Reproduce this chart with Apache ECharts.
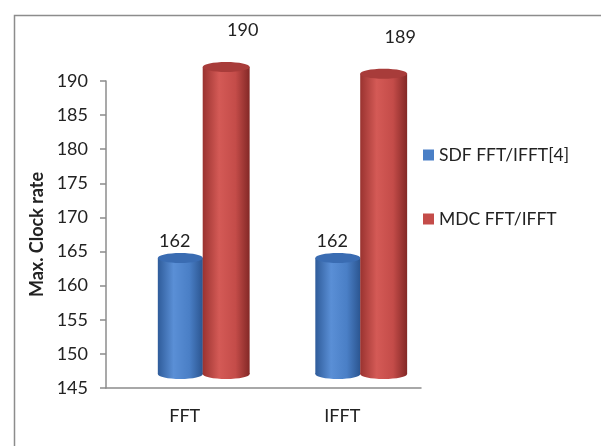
<!DOCTYPE html>
<html>
<head>
<meta charset="utf-8">
<script src="https://cdn.jsdelivr.net/npm/echarts@6/dist/echarts.min.js"></script>
<style>
  html, body { margin: 0; padding: 0; background: #fff; }
  #chart { width: 601px; height: 446px; }
</style>
</head>
<body>
<div id="chart"></div>
<script>
// Maximum clock rate comparison
const categories = ['FFT', 'IFFT'];
const seriesNames = ['SDF FFT/IFFT[4]', 'MDC FFT/IFFT'];
const sdfValues = [162, 162];
const mdcValues = [190, 189];
const yTicks = { min: 145, max: 190, step: 5 };

const FONT = 'Lato, "Open Sans", sans-serif';

// Cylinder placement inside a category band (fractions of band width),
// plus the shift that gives the 3D depth look.
const CYL = [
  { left: -0.171, width: 0.286, labelDx: -10, labelDy: -31,
    colors: ['#2f5c9a', '#5a8fd6', '#4a7fc6', '#2b5590'], topColor: '#3a6cb2' },
  { left: 0.114, width: 0.298, labelDx: 58, labelDy: -51,
    colors: ['#9a3330', '#d45a56', '#c44c49', '#832826'], topColor: '#a83c3a' }
];
const DEPTH_Y = -14;
const RY = 5;

function makeRender(si) {
  const g = CYL[si];
  return function (params, api) {
    const cat = api.value(0);
    const val = api.value(1);
    const topPt = api.coord([cat, val]);
    const basePt = api.coord([cat, yTicks.min]);
    const band = api.size([1, 0])[0];
    const center = topPt[0];
    const x0 = center + g.left * band;
    const w = g.width * band;
    const yTop = topPt[1] + DEPTH_Y;
    const yBot = basePt[1] + DEPTH_Y;
    const grad = () => new echarts.graphic.LinearGradient(0, 0, 1, 0, [
      { offset: 0, color: g.colors[0] },
      { offset: 0.35, color: g.colors[1] },
      { offset: 0.7, color: g.colors[2] },
      { offset: 1, color: g.colors[3] }
    ]);
    return {
      type: 'group',
      children: [
        { type: 'ellipse', shape: { cx: x0 + w / 2, cy: yBot, rx: w / 2, ry: RY },
          style: { fill: grad() } },
        { type: 'rect', shape: { x: x0, y: yTop, width: w, height: yBot - yTop },
          style: { fill: grad() } },
        { type: 'ellipse', shape: { cx: x0 + w / 2, cy: yTop, rx: w / 2, ry: RY },
          style: { fill: g.topColor } },
        { type: 'text',
          style: { text: String(val), x: center + g.labelDx, y: topPt[1] + g.labelDy,
                   align: 'center', verticalAlign: 'middle',
                   fontFamily: FONT, fontSize: 18, fill: '#222' } }
      ]
    };
  };
}

const chart = echarts.init(document.getElementById('chart'), null, { renderer: 'canvas' });

chart.setOption({
  animation: false,
  backgroundColor: '#fff',
  textStyle: { fontFamily: FONT },
  graphic: [{
    type: 'rect', left: 12, top: 13, z: -1,
    shape: { width: 588, height: 460 },
    style: { fill: 'none', stroke: '#8c8c8c', lineWidth: 1.5 }
  }],
  legend: {
    orient: 'vertical', left: 423, top: 146, padding: 0,
    itemWidth: 11, itemHeight: 11, itemGap: 46, icon: 'rect',
    textStyle: { fontFamily: FONT, fontSize: 17.5, color: '#222' },
    data: seriesNames
  },
  grid: { left: 106, right: 180, top: 81, bottom: 58 },
  xAxis: {
    type: 'category', data: categories, boundaryGap: true,
    axisLine: { lineStyle: { color: '#8c8c8c', width: 1.5 } },
    axisTick: { length: 5, lineStyle: { color: '#8c8c8c', width: 1.5 } },
    axisLabel: { fontFamily: FONT, fontSize: 18, color: '#222', margin: 19 }
  },
  yAxis: {
    type: 'value', min: yTicks.min, max: yTicks.max, interval: yTicks.step,
    name: 'Max. Clock rate', nameLocation: 'middle', nameGap: 60,
    nameTextStyle: { fontFamily: FONT, fontSize: 18, fontWeight: 'bold', color: '#222' },
    axisLine: { show: true, lineStyle: { color: '#8c8c8c', width: 1.5 } },
    axisTick: { show: true, length: 6, lineStyle: { color: '#8c8c8c', width: 1.5 } },
    axisLabel: { fontFamily: FONT, fontSize: 18, color: '#222', margin: 18 },
    splitLine: { show: false }
  },
  series: [
    { name: seriesNames[0], type: 'custom', renderItem: makeRender(0),
      itemStyle: { color: '#4a7fc6' }, clip: false,
      encode: { x: 0, y: 1 },
      data: sdfValues.map((v, i) => [i, v]) },
    { name: seriesNames[1], type: 'custom', renderItem: makeRender(1),
      itemStyle: { color: '#c44c49' }, clip: false,
      encode: { x: 0, y: 1 },
      data: mdcValues.map((v, i) => [i, v]) }
  ]
});
</script>
</body>
</html>
